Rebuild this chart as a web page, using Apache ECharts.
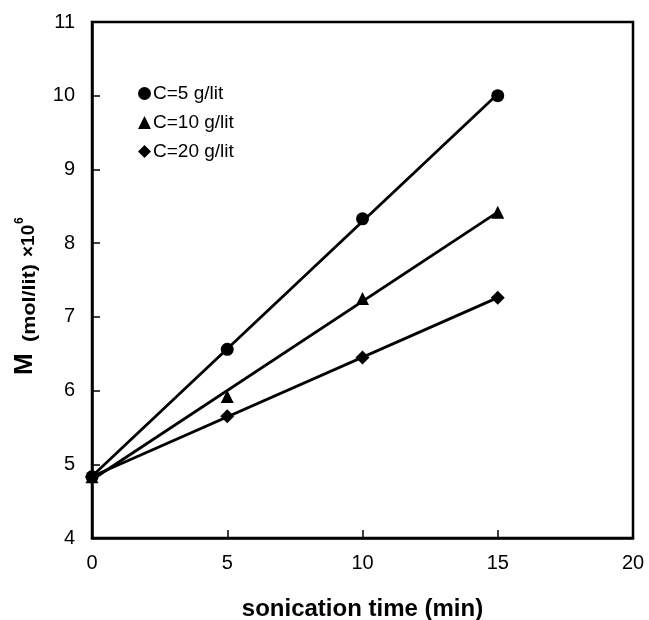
<!DOCTYPE html>
<html>
<head>
<meta charset="utf-8">
<script src="https://cdn.jsdelivr.net/npm/echarts@6/dist/echarts.min.js"></script>
<style>
  html, body { margin: 0; padding: 0; background: #fff; }
  #chart { width: 649px; height: 620px; }
</style>
</head>
<body>
<div id="chart"></div>
<script>
// Sonication time (min)
const times = [0, 5, 10, 15];
// M (mol/lit) x 10^6 for each concentration
const seriesNames = ['C=5 g/lit', 'C=10 g/lit', 'C=20 g/lit'];
const c5 = [4.83, 6.56, 8.33, 10.0];
const c10 = [4.83, 5.92, 7.25, 8.42];
const c20 = [4.83, 5.65, 6.45, 7.26];
const symbols = ['circle', 'triangle', 'diamond'];
const xTicks = [0, 5, 10, 15, 20];
const yTicks = [4, 5, 6, 7, 8, 9, 10, 11];

// least-squares straight line through one series, evaluated at first and last time
function fitLine(xs, ys) {
  const n = xs.length;
  const mx = xs.reduce((a, b) => a + b, 0) / n;
  const my = ys.reduce((a, b) => a + b, 0) / n;
  let sxy = 0, sxx = 0;
  for (let i = 0; i < n; i++) {
    sxy += (xs[i] - mx) * (ys[i] - my);
    sxx += (xs[i] - mx) * (xs[i] - mx);
  }
  const slope = sxy / sxx;
  const icpt = my - slope * mx;
  const x0 = xs[0], x1 = xs[n - 1];
  return [[x0, icpt + slope * x0], [x1, icpt + slope * x1]];
}

const allValues = [c5, c10, c20];
const series = [];
allValues.forEach((vals) => {
  series.push({
    type: 'line',
    data: fitLine(times, vals),
    showSymbol: false,
    silent: true,
    lineStyle: { color: '#000', width: 2.8 },
    z: 2
  });
});
allValues.forEach((vals, i) => {
  series.push({
    name: seriesNames[i],
    type: 'scatter',
    symbol: symbols[i],
    symbolSize: symbols[i] === 'diamond' ? 14 : 13,
    data: times.map((t, j) => [t, vals[j]]),
    itemStyle: { color: '#000', opacity: 1 },
    z: 3
  });
});

const chart = echarts.init(document.getElementById('chart'), null, { renderer: 'canvas' });
const font = 'Liberation Sans, Arial, sans-serif';

// rotated y-axis title: M (mol/lit) x 10^6, reading bottom to top
const yTitle = {
  type: 'group',
  x: 38, y: 375,
  rotation: Math.PI / 2,
  silent: true,
  children: [
    { type: 'text', x: 0, y: 0, style: { text: 'M', font: 'bold 26px ' + font, fill: '#000', textAlign: 'left', textVerticalAlign: 'bottom' } },
    { type: 'text', x: 33, y: 1, scaleX: 1.2, style: { text: '(mol/lit)', font: 'bold 18px ' + font, fill: '#000', textAlign: 'left', textVerticalAlign: 'bottom' } },
    { type: 'text', x: 118, y: 0, style: { text: '\u00d710', font: 'bold 19px ' + font, fill: '#000', textAlign: 'left', textVerticalAlign: 'bottom' } },
    { type: 'text', x: 151, y: -12, style: { text: '6', font: 'bold 12px ' + font, fill: '#000', textAlign: 'left', textVerticalAlign: 'bottom' } }
  ]
};

chart.setOption({
  animation: false,
  backgroundColor: '#fff',
  textStyle: { fontFamily: font, color: '#000' },
  grid: {
    left: 92, right: 16, top: 22, bottom: 82,
    outerBoundsMode: 'none',
    containLabel: false,
    show: true, borderColor: '#000', borderWidth: 2.5
  },
  legend: {
    orient: 'vertical',
    left: 133, top: 79,
    itemGap: 10,
    itemWidth: 13, itemHeight: 13,
    data: seriesNames.map((n, i) => ({ name: n, icon: symbols[i] })),
    textStyle: { fontSize: 19, fontFamily: font, color: '#000', padding: [0, 0, 0, -3] },
    selectedMode: false
  },
  graphic: [yTitle],
  xAxis: {
    type: 'value',
    min: xTicks[0], max: xTicks[xTicks.length - 1], interval: 5,
    name: 'sonication time (min)',
    nameLocation: 'middle',
    nameGap: 59,
    nameTextStyle: { fontSize: 24, fontWeight: 'bold', fontFamily: font, color: '#000' },
    axisLine: { lineStyle: { color: '#000', width: 2.5 } },
    axisTick: { inside: true, length: 8, lineStyle: { color: '#000', width: 1.5 } },
    axisLabel: { fontSize: 20, color: '#000', margin: 15, fontFamily: font },
    splitLine: { show: false }
  },
  yAxis: {
    type: 'value',
    min: yTicks[0], max: yTicks[yTicks.length - 1], interval: 1,
    axisLine: { lineStyle: { color: '#000', width: 2.5 } },
    axisTick: { inside: true, length: 8, lineStyle: { color: '#000', width: 1.5 } },
    axisLabel: { fontSize: 20, color: '#000', margin: 17, fontFamily: font },
    splitLine: { show: false }
  },
  series: series
});
</script>
</body>
</html>
